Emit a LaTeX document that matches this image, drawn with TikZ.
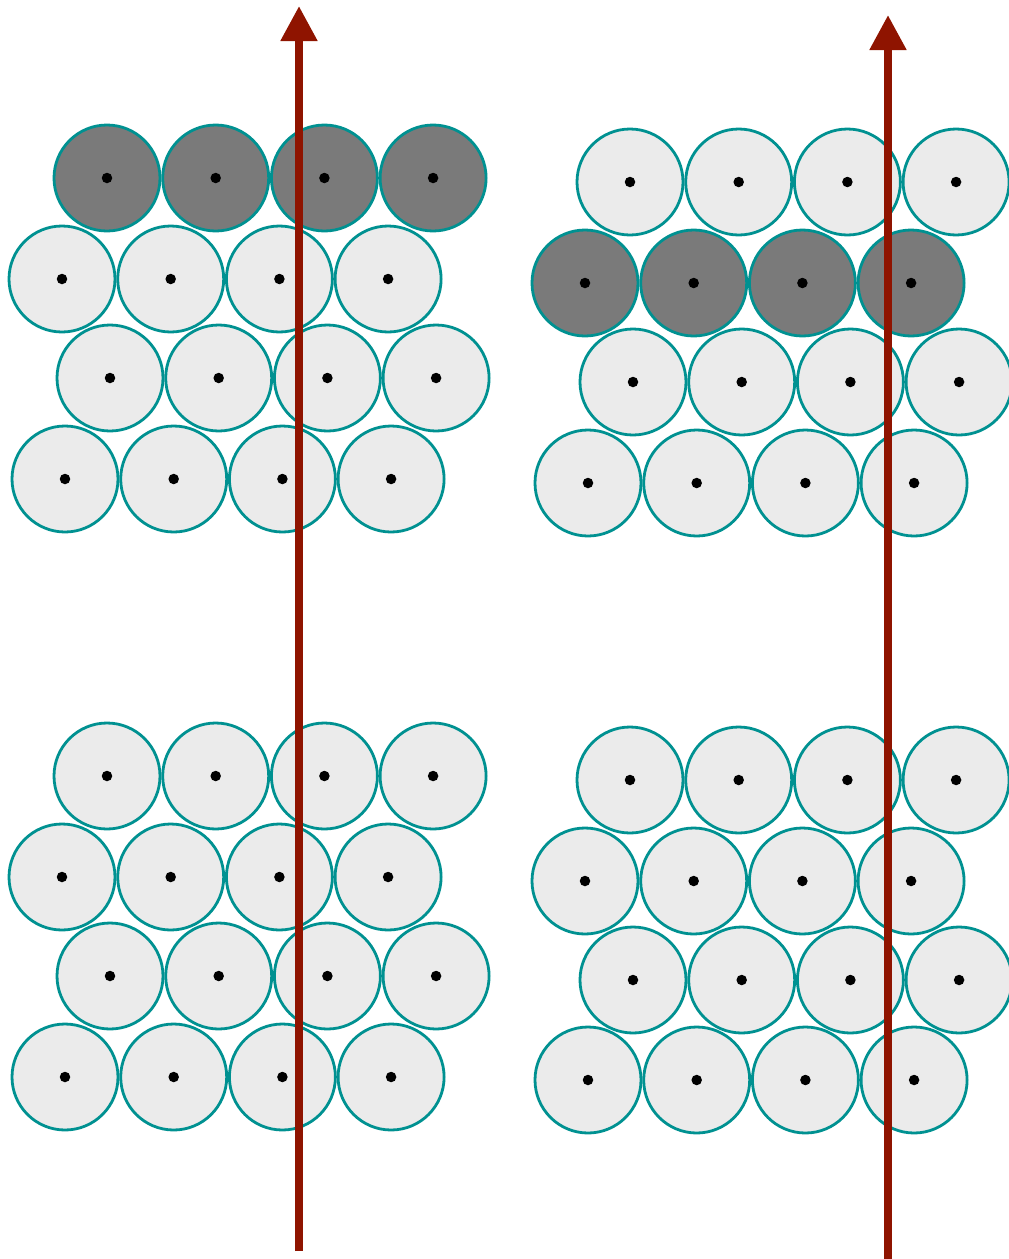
\documentclass[tikz,border=0pt]{standalone}
\usetikzlibrary{arrows.meta}
\definecolor{ringc}{RGB}{0,145,145}
\definecolor{lightfill}{RGB}{235,235,235}
\definecolor{darkfill}{RGB}{122,122,122}
\definecolor{arrowc}{RGB}{143,20,0}
\tikzset{
  ball/.style={circle, draw=ringc, line width=2.8pt, fill=lightfill, minimum size=106pt, inner sep=0pt},
  darkball/.style={ball, fill=darkfill},
  centerdot/.style={circle, fill=black, minimum size=10.5pt, inner sep=0pt},
  beam/.style={draw=arrowc, line width=8pt, -{Triangle[length=35pt,width=35pt]}}
}
\begin{document}
\begin{tikzpicture}[x=1pt,y=-1pt]
\useasboundingbox (0,0) rectangle (1009,1259);
% Left top block
\foreach \r/\y/\xs/\st in {1/178/107/darkball,2/279/62/ball,3/378/110/ball,4/479/65/ball} {
  \foreach \k in {1,2,3,4} {
    \node[\st] (LT\r\k) at ({\xs+(\k-1)*108.7},\y) {};
    \node[centerdot] (LTd\r\k) at (LT\r\k.center) {};
  }
}
% Left bottom block
\foreach \r/\y/\xs in {1/776/107,2/877/62,3/976/110,4/1077/65} {
  \foreach \k in {1,2,3,4} {
    \node[ball] (LB\r\k) at ({\xs+(\k-1)*108.7},\y) {};
    \node[centerdot] (LBd\r\k) at (LB\r\k.center) {};
  }
}
% Right top block
\foreach \r/\y/\xs/\st in {1/182/630/ball,2/283/585/darkball,3/382/633/ball,4/483/588/ball} {
  \foreach \k in {1,2,3,4} {
    \node[\st] (RT\r\k) at ({\xs+(\k-1)*108.7},\y) {};
    \node[centerdot] (RTd\r\k) at (RT\r\k.center) {};
  }
}
% Right bottom block
\foreach \r/\y/\xs in {1/780/630,2/881/585,3/980/633,4/1080/588} {
  \foreach \k in {1,2,3,4} {
    \node[ball] (RB\r\k) at ({\xs+(\k-1)*108.7},\y) {};
    \node[centerdot] (RBd\r\k) at (RB\r\k.center) {};
  }
}
% arrows
\coordinate (A1s) at (299,1251);
\coordinate (A1e) at (299,6);
\coordinate (A2s) at (888,1262);
\coordinate (A2e) at (888,15);
\draw[beam] (A1s) -- (A1e);
\draw[beam] (A2s) -- (A2e);
\end{tikzpicture}
\end{document}
